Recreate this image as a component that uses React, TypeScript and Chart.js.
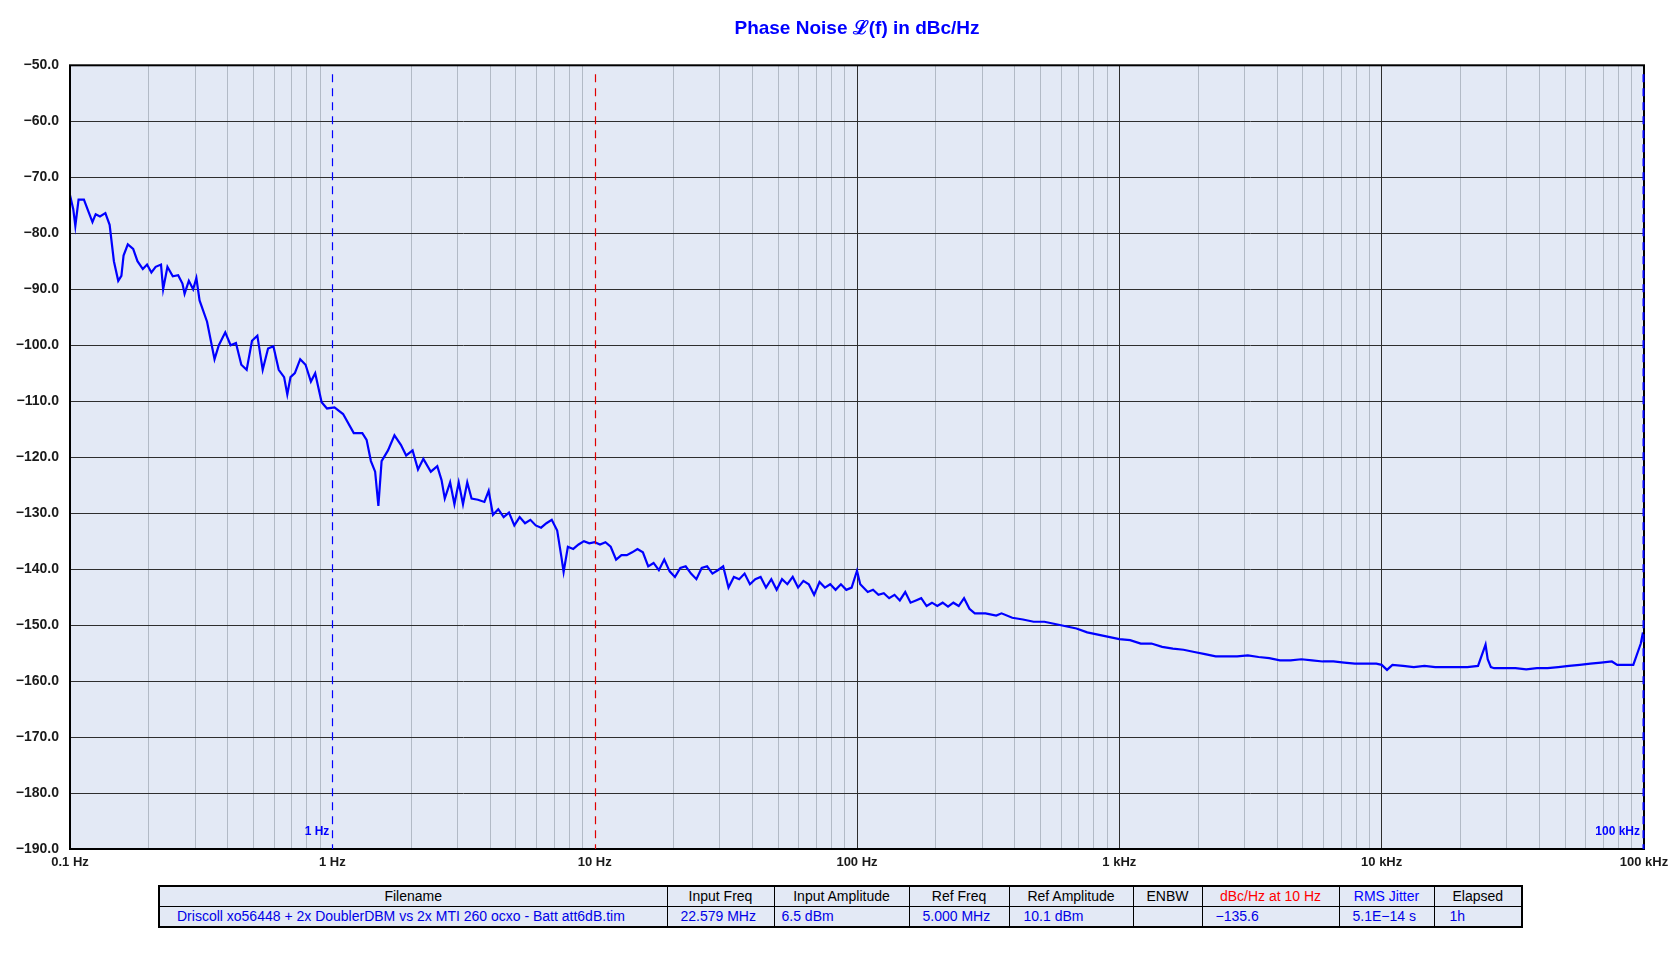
import React, { useEffect, useRef } from "react";
import { Chart, registerables } from "chart.js";

Chart.register(...registerables);

// ---------- data ----------
const FREQ_HZ = [
  0.1, 0.1029, 0.1048, 0.1078, 0.113, 0.1173, 0.1218, 0.1253, 0.1301, 0.1364, 0.1416, 0.147, 0.1527, 0.157, 0.16,
  0.1661, 0.1741, 0.1808, 0.1895, 0.1967, 0.2043, 0.2121, 0.2223, 0.2265, 0.2352, 0.2465, 0.2584, 0.2683, 0.2734,
  0.2838, 0.2947, 0.3032, 0.3118, 0.333, 0.3556, 0.3693, 0.3907, 0.4095, 0.4291, 0.4498, 0.4714, 0.494, 0.5178,
  0.5427, 0.5688, 0.5961, 0.6247, 0.6548, 0.6735, 0.6928, 0.7197, 0.7543, 0.7905, 0.8285, 0.8603, 0.9103, 0.954,
  1.019, 1.099, 1.207, 1.301, 1.351, 1.403, 1.456, 1.498, 1.541, 1.63, 1.725, 1.825, 1.912, 2.023, 2.121, 2.223,
  2.374, 2.512, 2.608, 2.683, 2.812, 2.92, 3.032, 3.148, 3.268, 3.394, 3.59, 3.799, 3.944, 4.095, 4.291, 4.498,
  4.714, 4.94, 5.178, 5.427, 5.688, 5.961, 6.247, 6.548, 6.862, 7.197, 7.472, 7.614, 7.905, 8.285, 8.684, 9.103,
  9.54, 10.0, 10.48, 10.99, 11.51, 12.07, 12.65, 13.26, 13.9, 14.56, 15.27, 16.0, 16.77, 17.57, 18.42, 19.31,
  20.23, 21.21, 22.23, 23.3, 24.42, 25.59, 26.83, 28.12, 29.47, 30.89, 32.37, 33.94, 35.56, 37.28, 39.07, 40.95,
  42.91, 44.98, 47.14, 49.4, 51.78, 54.27, 56.88, 59.61, 62.47, 65.48, 68.62, 71.97, 75.43, 79.05, 82.85, 86.84,
  91.03, 95.4, 100.0, 102.9, 109.9, 115.1, 120.7, 126.5, 132.6, 139.0, 145.6, 152.7, 160.0, 167.7, 175.7, 184.2,
  193.1, 202.3, 212.1, 222.3, 233.0, 244.2, 255.9, 268.3, 281.2, 308.9, 339.4, 355.6, 390.7, 429.1, 471.4, 517.8,
  568.8, 624.7, 686.2, 754.3, 828.5, 910.3, 1000, 1099, 1207, 1326, 1456, 1600, 1757, 1931, 2121, 2330, 2559,
  2812, 3089, 3394, 3728, 4095, 4498, 4940, 5427, 5961, 6548, 7197, 7905, 8684, 9540, 10000, 10480, 10990, 12070,
  13260, 14560, 16000, 17570, 19310, 21210, 23300, 24890, 25360, 26080, 26830, 29470, 32370, 35560, 39070, 42910,
  47140, 51780, 56880, 62470, 68620, 75430, 79050, 82850, 91030, 97220, 99070, 100000,
];

const PHASE_NOISE_DBC = [
  -73.2, -75.7, -78.7, -74.0, -74.0, -76.0, -78.0, -76.6, -77.0, -76.4, -78.5, -85.0, -88.5, -87.6, -84.0,
  -82.0, -82.8, -85.0, -86.4, -85.6, -87.0, -86.0, -85.6, -90.0, -86.0, -87.7, -87.5, -89.0, -90.8,
  -88.5, -90.0, -88.0, -92.0, -95.8, -102.5, -100.0, -97.7, -100.0, -99.6, -103.5, -104.4, -99.2, -98.3,
  -104.4, -100.6, -100.2, -104.4, -105.7, -108.8, -105.7, -105.0, -102.5, -103.5, -106.5, -105.0, -110.2, -111.3,
  -111.1, -112.3, -115.7, -115.7, -116.9, -120.7, -122.6, -128.7, -120.7, -118.8, -116.1, -117.8, -119.7, -118.8, -122.2, -120.3,
  -122.6, -121.6, -124.1, -127.4, -124.5, -128.4, -124.5, -128.4, -124.5, -127.4, -127.6, -128.0, -126.0, -130.3, -129.3, -130.7,
  -129.9, -132.2, -130.7, -131.8, -131.2, -132.2, -132.6, -131.8, -131.2, -133.1, -137.9, -140.5, -136.0, -136.4, -135.6, -135.0,
  -135.4, -135.2, -135.6, -135.2, -136.0, -138.3, -137.5, -137.5, -137.0, -136.4, -137.0, -139.5, -138.9, -140.2, -138.3, -140.4,
  -141.4, -139.8, -139.5, -140.8, -141.8, -139.8, -139.5, -140.8, -140.2, -139.5, -143.3, -141.4, -141.8, -140.8, -142.7, -141.8,
  -141.4, -143.3, -141.8, -143.7, -141.8, -142.7, -141.4, -143.3, -142.1, -142.7, -144.6, -142.3, -143.3, -142.7, -143.7, -142.7,
  -143.7, -143.3, -140.3, -142.7, -144.1, -143.7, -144.6, -144.3, -145.2, -144.6, -145.6, -144.1, -146.0, -145.6, -145.2, -146.6,
  -146.0, -146.6, -146.0, -146.7, -146.0, -146.6, -145.2, -147.1, -147.9, -147.9, -148.3, -147.9, -148.7, -149.0, -149.4, -149.4,
  -149.8, -150.2, -150.6, -151.3, -151.7, -152.1, -152.5, -152.7, -153.3, -153.3, -153.9, -154.2, -154.4, -154.8, -155.2, -155.6, -155.6,
  -155.6, -155.4, -155.7, -155.9, -156.3, -156.3, -156.1, -156.3, -156.5, -156.5, -156.7, -156.9, -156.9, -156.9, -157.1, -158.0, -157.1,
  -157.3, -157.5, -157.3, -157.5, -157.5, -157.5, -157.5, -157.3, -153.5, -156.1, -157.5, -157.7, -157.7, -157.7, -157.9, -157.7,
  -157.7, -157.5, -157.3, -157.1, -156.9, -156.7, -156.5, -157.1, -157.1, -157.1, -153.3, -151.3,
];

const X_DECADES = [0.1, 1, 10, 100, 1000, 10000, 100000];
const X_TICK_LABELS = ["0.1 Hz", "1 Hz", "10 Hz", "100 Hz", "1 kHz", "10 kHz", "100 kHz"];
const X_MINOR_MULTIPLIERS = [2, 3, 4, 5, 6, 7, 8, 9];
const X_HIDDEN_GRID = [1, 10];

const Y_MIN = -190;
const Y_MAX = -50;
const Y_STEP = 10;

const MARKER_FREQS = [1, 10, 100000];
const MARKER_COLORS = ["#0000ff", "#e00000", "#0000ff"];
const MARKER_WIDTHS = [1.2, 1.2, 2];
const MARKER_LABELS = ["1 Hz", "", "100 kHz"];

const TITLE = "Phase Noise \u2112(f) in dBc/Hz";

const TABLE_HEADERS = ["Filename", "Input Freq", "Input Amplitude", "Ref Freq", "Ref Amplitude", "ENBW", "dBc/Hz at 10 Hz", "RMS Jitter", "Elapsed"];
const TABLE_HEADER_COLORS = ["#000", "#000", "#000", "#000", "#000", "#000", "#ff0000", "#0000ff", "#000"];
const TABLE_VALUES = [
  "Driscoll xo56448 + 2x DoublerDBM vs 2x MTI 260 ocxo - Batt att6dB.tim",
  "22.579 MHz",
  "6.5 dBm",
  "5.000 MHz",
  "10.1 dBm",
  "",
  "\u2212135.6",
  "5.1E\u221214 s",
  "1h",
];
const TABLE_COL_WIDTHS = [508, 107, 135, 100, 124, 69, 137, 95, 88];
const TABLE_PAD_LEFT = [17, 13, 7, 13, 14, 13, 13, 13, 15];

// ---------- styles ----------
const PLOT_BG = "#e3e9f5";
const MAJOR_GRID = "#2e2e2e";
const MINOR_GRID = "#b2bac6";
const FONT = "'Liberation Sans', Arial, sans-serif";

const isClose = (a: number, b: number) => Math.abs(Math.log10(a) - Math.log10(b)) < 1e-6;

export default function App() {
  const ref = useRef<HTMLCanvasElement | null>(null);

  useEffect(() => {
    if (!ref.current) return;
    const points = FREQ_HZ.map((f, i) => ({ x: f, y: PHASE_NOISE_DBC[i] }));

    const plotPlugin = {
      id: "pnDecor",
      beforeDraw(chart: any) {
        const { ctx, chartArea: a } = chart;
        ctx.save();
        ctx.fillStyle = PLOT_BG;
        ctx.fillRect(a.left, a.top, a.right - a.left, a.bottom - a.top);
        ctx.restore();
      },
      afterDatasetsDraw(chart: any) {
        const { ctx, chartArea: a } = chart;
        const xs = chart.scales.x;
        ctx.save();
        ctx.strokeStyle = "#000";
        ctx.lineWidth = 2;
        ctx.strokeRect(a.left, a.top, a.right - a.left, a.bottom - a.top);
        MARKER_FREQS.forEach((f, i) => {
          let px = xs.getPixelForValue(f);
          if (i === MARKER_FREQS.length - 1) px -= 1;
          ctx.beginPath();
          ctx.setLineDash([8, 6]);
          ctx.strokeStyle = MARKER_COLORS[i];
          ctx.lineWidth = MARKER_WIDTHS[i];
          ctx.moveTo(Math.round(px) + 0.5, a.top + 9);
          ctx.lineTo(Math.round(px) + 0.5, a.bottom);
          ctx.stroke();
          if (MARKER_LABELS[i]) {
            ctx.setLineDash([]);
            ctx.fillStyle = MARKER_COLORS[i];
            ctx.font = `bold 12px ${FONT}`;
            ctx.textAlign = "right";
            ctx.textBaseline = "middle";
            ctx.fillText(MARKER_LABELS[i], px - 3, a.bottom - 17);
          }
        });
        ctx.restore();
      },
    };

    const chart = new Chart(ref.current, {
      type: "line",
      data: {
        datasets: [
          {
            data: points,
            borderColor: "#0000ff",
            borderWidth: 2.2,
            pointRadius: 0,
            tension: 0,
            fill: false,
          },
        ],
      },
      options: {
        animation: false,
        responsive: false,
        devicePixelRatio: 1,
        layout: { padding: { left: 0, right: 36, top: 0, bottom: 0 } },
        plugins: {
          legend: { display: false },
          tooltip: { enabled: false },
          title: {
            display: true,
            text: TITLE,
            fullSize: false,
            color: "#0000ff",
            font: { family: FONT, size: 19, weight: "bold" },
            padding: { top: 17, bottom: 25.5 },
          },
        },
        scales: {
          x: {
            type: "logarithmic",
            min: X_DECADES[0],
            max: X_DECADES[X_DECADES.length - 1],
            afterFit: (s: any) => {
              s.height = 118;
              s.paddingLeft = 0;
              s.paddingRight = 0;
            },
            afterBuildTicks: (s: any) => {
              const t: { value: number }[] = [];
              X_DECADES.forEach((d, i) => {
                t.push({ value: d });
                if (i < X_DECADES.length - 1) X_MINOR_MULTIPLIERS.forEach((m) => t.push({ value: d * m }));
              });
              s.ticks = t;
            },
            border: { display: false },
            grid: {
              drawTicks: false,
              lineWidth: 1,
              color: (c: any) => {
                const v = c.tick ? c.tick.value : 0;
                if (X_HIDDEN_GRID.some((h) => isClose(h, v))) return "rgba(0,0,0,0)";
                if (X_DECADES.some((d) => isClose(d, v))) return MAJOR_GRID;
                return MINOR_GRID;
              },
            },
            ticks: {
              autoSkip: false,
              maxRotation: 0,
              minRotation: 0,
              padding: 6,
              color: "#1a1a1a",
              font: { family: FONT, size: 13, weight: "bold" },
              callback: (v: any) => {
                const i = X_DECADES.findIndex((d) => isClose(d, Number(v)));
                return i >= 0 ? X_TICK_LABELS[i] : "";
              },
            },
          },
          y: {
            type: "linear",
            min: Y_MIN,
            max: Y_MAX,
            afterFit: (s: any) => {
              s.width = 70;
            },
            border: { display: false },
            grid: { drawTicks: false, color: MAJOR_GRID, lineWidth: 1 },
            ticks: {
              stepSize: Y_STEP,
              padding: 11,
              color: "#1a1a1a",
              font: { family: FONT, size: 14, weight: "bold" },
              callback: (v: any) => (Number(v) < 0 ? "\u2212" : "") + Math.abs(Number(v)).toFixed(1),
            },
          },
        },
      },
      plugins: [plotPlugin],
    } as any);

    return () => chart.destroy();
  }, []);

  const cellBase: React.CSSProperties = {
    border: "1px solid #000",
    height: 19,
    lineHeight: "19px",
    padding: 0,
    fontFamily: FONT,
    fontSize: 14,
    whiteSpace: "nowrap",
    overflow: "hidden",
  };

  return (
    <div style={{ position: "absolute", left: 0, top: 0, width: 1680, height: 967, background: "#fff" }}>
      <canvas ref={ref} width={1680} height={967} style={{ position: "absolute", left: 0, top: 0, width: 1680, height: 967 }} />
      <table
        style={{
          position: "absolute",
          left: 158,
          top: 885,
          width: 1363,
          borderCollapse: "collapse",
          border: "2px solid #000",
          background: PLOT_BG,
          tableLayout: "fixed",
        }}
      >
        <colgroup>
          {TABLE_COL_WIDTHS.map((w, i) => (
            <col key={i} style={{ width: w }} />
          ))}
        </colgroup>
        <tbody>
          <tr>
            {TABLE_HEADERS.map((h, i) => (
              <td key={i} style={{ ...cellBase, textAlign: "center", color: TABLE_HEADER_COLORS[i] }}>
                {h}
              </td>
            ))}
          </tr>
          <tr>
            {TABLE_VALUES.map((v, i) => (
              <td key={i} style={{ ...cellBase, textAlign: "left", paddingLeft: TABLE_PAD_LEFT[i], color: "#0000e6" }}>
                {v}
              </td>
            ))}
          </tr>
        </tbody>
      </table>
    </div>
  );
}
